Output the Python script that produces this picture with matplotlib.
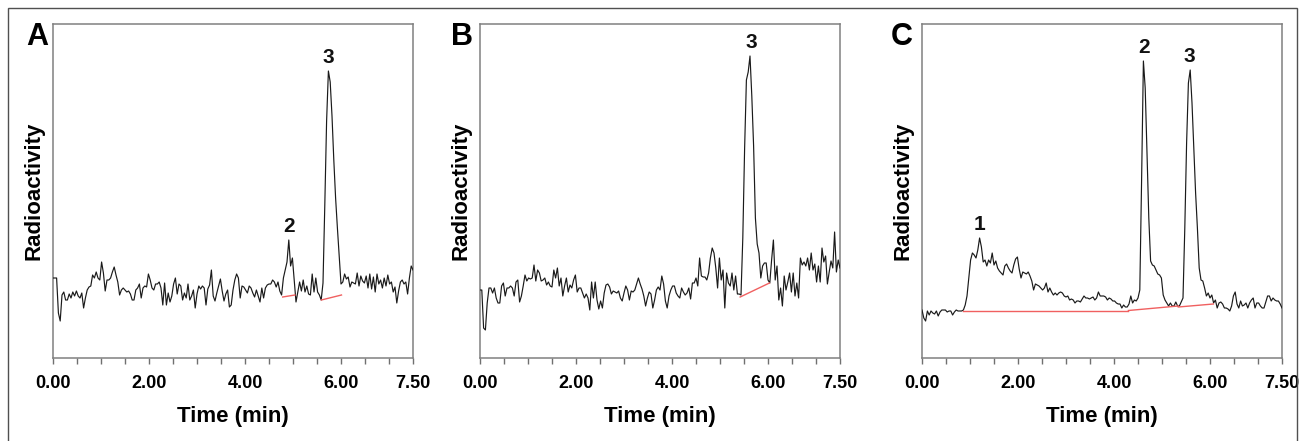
import numpy as np
import matplotlib
matplotlib.use("Agg")
import matplotlib.pyplot as plt
from matplotlib.patches import Rectangle

DT = 0.0375  # sampling interval (min)

trace_a = [
    80, 80, 80, 45, 37, 63, 66, 58, 58, 64,
    60, 66, 62, 67, 62, 60, 65, 50, 60, 68,
    71, 72, 83, 80, 86, 80, 78, 96, 85, 67,
    78, 78, 80, 86, 91, 83, 76, 63, 68, 70,
    68, 66, 67, 64, 58, 58, 68, 70, 74, 60,
    70, 72, 71, 84, 78, 70, 68, 74, 74, 76,
    70, 53, 75, 53, 65, 56, 62, 74, 80, 64,
    74, 72, 58, 65, 60, 74, 58, 62, 68, 50,
    64, 72, 69, 72, 70, 53, 69, 73, 88, 62,
    57, 65, 72, 79, 67, 57, 64, 68, 51, 53,
    68, 78, 84, 80, 60, 72, 71, 68, 65, 72,
    70, 65, 61, 68, 62, 56, 70, 60, 70, 73,
    74, 74, 78, 76, 71, 76, 67, 63, 80, 88,
    96, 118, 92, 100, 78, 56, 66, 76, 67, 78,
    66, 72, 64, 63, 84, 66, 80, 66, 63, 58,
    75, 153, 237, 287, 276, 242, 198, 160, 130, 102,
    74, 76, 84, 79, 81, 71, 76, 75, 74, 85,
    72, 82, 77, 75, 82, 70, 84, 69, 81, 66,
    84, 74, 78, 70, 80, 72, 83, 74, 76, 66,
    71, 55, 67, 76, 78, 74, 76, 64, 80, 92, 88,
]

trace_b = [
    68, 68, 30, 28, 55, 70, 70, 65, 70, 60,
    55, 55, 72, 75, 62, 70, 70, 72, 70, 62,
    76, 78, 56, 62, 72, 83, 77, 80, 79, 80,
    93, 77, 88, 85, 77, 78, 80, 73, 76, 72,
    71, 88, 80, 90, 72, 80, 62, 72, 80, 66,
    73, 70, 78, 83, 66, 70, 70, 65, 60, 64,
    60, 48, 76, 60, 76, 58, 49, 57, 50, 65,
    73, 74, 71, 64, 67, 66, 65, 67, 60, 57,
    65, 72, 68, 58, 67, 66, 68, 74, 80, 74,
    69, 62, 52, 60, 66, 64, 50, 58, 68, 71,
    68, 82, 74, 57, 50, 62, 68, 72, 72, 65,
    62, 60, 70, 66, 63, 65, 70, 59, 75, 75,
    80, 72, 100, 82, 81, 81, 78, 85, 100, 110,
    105, 90, 70, 100, 78, 88, 50, 85, 75, 72,
    85, 68, 82, 64, 64, 63, 120, 209, 278, 286,
    302, 262, 212, 140, 114, 105, 80, 92, 95, 95,
    78, 75, 98, 118, 78, 92, 58, 70, 52, 82,
    68, 76, 85, 66, 85, 62, 75, 60, 100, 93,
    96, 92, 100, 88, 105, 88, 94, 76, 92, 76,
    110, 96, 102, 74, 86, 97, 90, 126, 86, 98, 90,
]

trace_c = [
    48, 40, 37, 47, 43, 47, 45, 44, 47, 42,
    46, 48, 48, 48, 46, 47, 47, 43, 46, 48,
    47, 47, 47, 48, 53, 62, 80, 98, 105, 103,
    100, 108, 120, 111, 96, 98, 92, 98, 95, 105,
    93, 97, 90, 87, 85, 83, 92, 94, 90, 87,
    85, 93, 99, 101, 89, 80, 86, 85, 84, 86,
    82, 77, 68, 74, 73, 72, 70, 68, 70, 75,
    66, 70, 66, 63, 65, 63, 65, 66, 65, 62,
    61, 62, 58, 59, 58, 55, 57, 57, 56, 59,
    62, 60, 60, 59, 60, 61, 58, 60, 66, 62,
    62, 62, 61, 58, 60, 59, 57, 57, 55, 54,
    54, 50, 53, 51, 51, 54, 62, 55, 58, 57,
    60, 68, 178, 297, 270, 205, 140, 97, 93, 92,
    88, 84, 83, 80, 63, 58, 55, 52, 55, 52,
    52, 56, 52, 52, 56, 60, 130, 215, 275, 288,
    255, 210, 165, 130, 90, 78, 77, 70, 62, 65,
    60, 63, 55, 58, 50, 55, 56, 54, 50, 50,
    49, 47, 52, 62, 66, 54, 50, 57, 52, 53,
    55, 50, 55, 58, 60, 50, 55, 55, 52, 50,
    50, 56, 62, 62, 57, 60, 58, 57, 57, 54, 50,
]

# integration baselines (start/end time, start/end level)
baseline_a_t = [[4.785, 5.04], [5.59, 6.01]]
baseline_a_y = [[61, 63], [58, 63]]
baseline_b_t = [[5.42, 6.03]]
baseline_b_y = [[61, 75]]
baseline_c_t = [[0.86, 4.30], [4.30, 5.34], [5.34, 6.07]]
baseline_c_y = [[47.5, 47.5], [47.5, 52], [51, 54]]

peak_labels_a = ["2", "3"]
peak_times_a = [4.92, 5.73]
peak_labels_b = ["3"]
peak_times_b = [5.66]
peak_labels_c = ["1", "2", "3"]
peak_times_c = [1.19, 4.63, 5.57]

panel_letters = ["A", "B", "C"]
xtick_major = [0, 2, 4, 6, 7.5]
xtick_labels = ["0.00", "2.00", "4.00", "6.00", "7.50"]
xtick_minor = [0.5 * k for k in range(16)]

FONT = "Liberation Sans"
W, H = 1302, 441
fig = plt.figure(figsize=(W / 100, H / 100), dpi=100)

# outer frame
fig.add_artist(Rectangle((8 / W, -0.05), (1297 - 8) / W, 1.05 - 8 / H,
                         transform=fig.transFigure, fill=False,
                         edgecolor="#505050", linewidth=1.0))

panels = [
    (53, trace_a, baseline_a_t, baseline_a_y, peak_labels_a, peak_times_a, 37),
    (480, trace_b, baseline_b_t, baseline_b_y, peak_labels_b, peak_times_b, 462),
    (922, trace_c, baseline_c_t, baseline_c_y, peak_labels_c, peak_times_c, 902),
]

for k, (left, trace, bt, by, plabels, ptimes, letter_x) in enumerate(panels):
    ax = fig.add_axes([left / W, (H - 358) / H, 360 / W, 334 / H])
    vals = np.array(trace, dtype=float)
    t = np.arange(len(vals)) * DT
    ax.plot(t, vals, color="#1a1a1a", lw=0.85, zorder=3)
    for tt, yy in zip(bt, by):
        ax.plot(tt, yy, color="#f06060", lw=1.0, zorder=4)
    for lab, pt in zip(plabels, ptimes):
        m = np.abs(t - pt) <= 0.09
        ymax = vals[m].max()
        ax.annotate(lab, (pt, ymax), xytext=(0, 9.5), textcoords="offset points",
                    ha="center", va="center", fontsize=15, fontweight="bold",
                    family=FONT, color="#111111")
    ax.set_xlim(0, 7.5)
    ax.set_ylim(0, 334)
    ax.set_yticks([])
    ax.set_xticks(xtick_major)
    ax.set_xticklabels(xtick_labels, fontsize=13, fontweight="bold", family=FONT)
    ax.set_xticks(xtick_minor, minor=True)
    ax.tick_params(axis="x", which="both", direction="out", length=4,
                   width=1.0, color="#707070", pad=8)
    for s in ax.spines.values():
        s.set_color("#808080")
        s.set_linewidth(1.1)
    ax.set_xlabel("Time (min)", fontsize=16, fontweight="bold", family=FONT,
                  labelpad=10)
    ax.set_ylabel("Radioactivity", fontsize=16, fontweight="bold", family=FONT,
                  labelpad=6)
    fig.text(letter_x / W, 1 - 37 / H, panel_letters[k], fontsize=22,
             fontweight="bold", family=FONT, ha="center", va="center")

fig.savefig("out.png", dpi=100)
